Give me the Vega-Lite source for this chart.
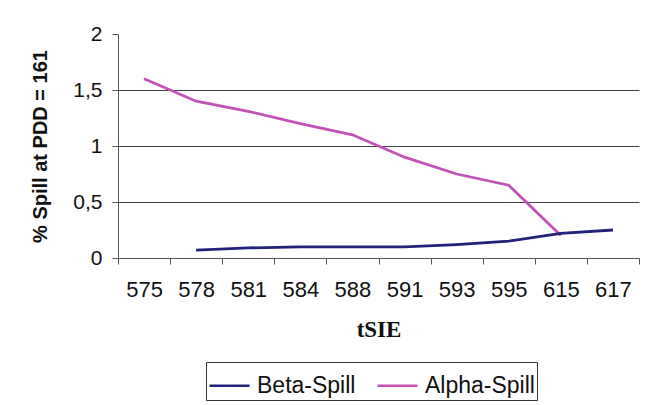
{
  "$schema": "https://vega.github.io/schema/vega-lite/v6.json",
  "width": 521,
  "height": 224,
  "autosize": {"type": "none"},
  "padding": {"left": 118, "top": 34, "right": 8, "bottom": 147},
  "background": "white",
  "config": {
    "view": {"stroke": null},
    "font": "Liberation Sans"
  },
  "data": {
    "values": [
      {"tSIE": "575", "series": "Alpha-Spill", "spill": 1.6},
      {"tSIE": "578", "series": "Alpha-Spill", "spill": 1.4},
      {"tSIE": "581", "series": "Alpha-Spill", "spill": 1.31},
      {"tSIE": "584", "series": "Alpha-Spill", "spill": 1.2},
      {"tSIE": "588", "series": "Alpha-Spill", "spill": 1.1},
      {"tSIE": "591", "series": "Alpha-Spill", "spill": 0.9},
      {"tSIE": "593", "series": "Alpha-Spill", "spill": 0.75},
      {"tSIE": "595", "series": "Alpha-Spill", "spill": 0.65},
      {"tSIE": "615", "series": "Alpha-Spill", "spill": 0.2},
      {"tSIE": "578", "series": "Beta-Spill", "spill": 0.07},
      {"tSIE": "581", "series": "Beta-Spill", "spill": 0.09},
      {"tSIE": "584", "series": "Beta-Spill", "spill": 0.1},
      {"tSIE": "588", "series": "Beta-Spill", "spill": 0.1},
      {"tSIE": "591", "series": "Beta-Spill", "spill": 0.1},
      {"tSIE": "593", "series": "Beta-Spill", "spill": 0.12},
      {"tSIE": "595", "series": "Beta-Spill", "spill": 0.15},
      {"tSIE": "615", "series": "Beta-Spill", "spill": 0.22},
      {"tSIE": "617", "series": "Beta-Spill", "spill": 0.25}
    ]
  },
  "mark": {"type": "line", "strokeWidth": 2.8},
  "encoding": {
    "x": {
      "field": "tSIE",
      "type": "ordinal",
      "sort": ["575", "578", "581", "584", "588", "591", "593", "595", "615", "617"],
      "scale": {"type": "band", "paddingInner": 0, "paddingOuter": 0, "domain": ["575", "578", "581", "584", "588", "591", "593", "595", "615", "617"]},
      "axis": {
        "title": "tSIE",
        "titleFont": "Liberation Serif",
        "titleFontSize": 23,
        "titleFontWeight": "bold",
        "titleColor": "#111",
        "titlePadding": 18,
        "labelAngle": 0,
        "labelFontSize": 22,
        "labelColor": "#111",
        "labelPadding": 15,
        "tickBand": "extent",
        "tickSize": 6,
        "tickColor": "#555",
        "domainColor": "#555",
        "grid": false
      }
    },
    "y": {
      "field": "spill",
      "type": "quantitative",
      "scale": {"domain": [0, 2], "nice": false},
      "axis": {
        "title": "% Spill at PDD = 161",
        "titleFontSize": 20,
        "titleFontWeight": "bold",
        "titleColor": "#111",
        "titlePadding": 22,
        "values": [0, 0.5, 1, 1.5, 2],
        "labelExpr": "replace(format(datum.value, '.1~f'), '.', ',')",
        "labelFontSize": 21,
        "labelColor": "#111",
        "labelPadding": 10,
        "tickSize": 6,
        "tickColor": "#555",
        "domainColor": "#555",
        "grid": true,
        "gridColor": "#444",
        "gridWidth": 1,
        "gridOpacity": {"condition": {"test": "datum.value == 2 || datum.value == 0", "value": 0}, "value": 1}
      }
    },
    "color": {
      "field": "series",
      "type": "nominal",
      "scale": {"domain": ["Beta-Spill", "Alpha-Spill"], "range": ["#22227a", "#c252b6"]},
      "legend": {
        "title": null,
        "orient": "none",
        "direction": "horizontal",
        "legendX": 88,
        "legendY": 328,
        "symbolType": "stroke",
        "symbolSize": 1600,
        "symbolStrokeWidth": 2.5,
        "labelFontSize": 23,
        "labelColor": "#111",
        "labelOffset": 6,
        "columnPadding": 16,
        "strokeColor": "#333",
        "padding": 2
      }
    }
  }
}
